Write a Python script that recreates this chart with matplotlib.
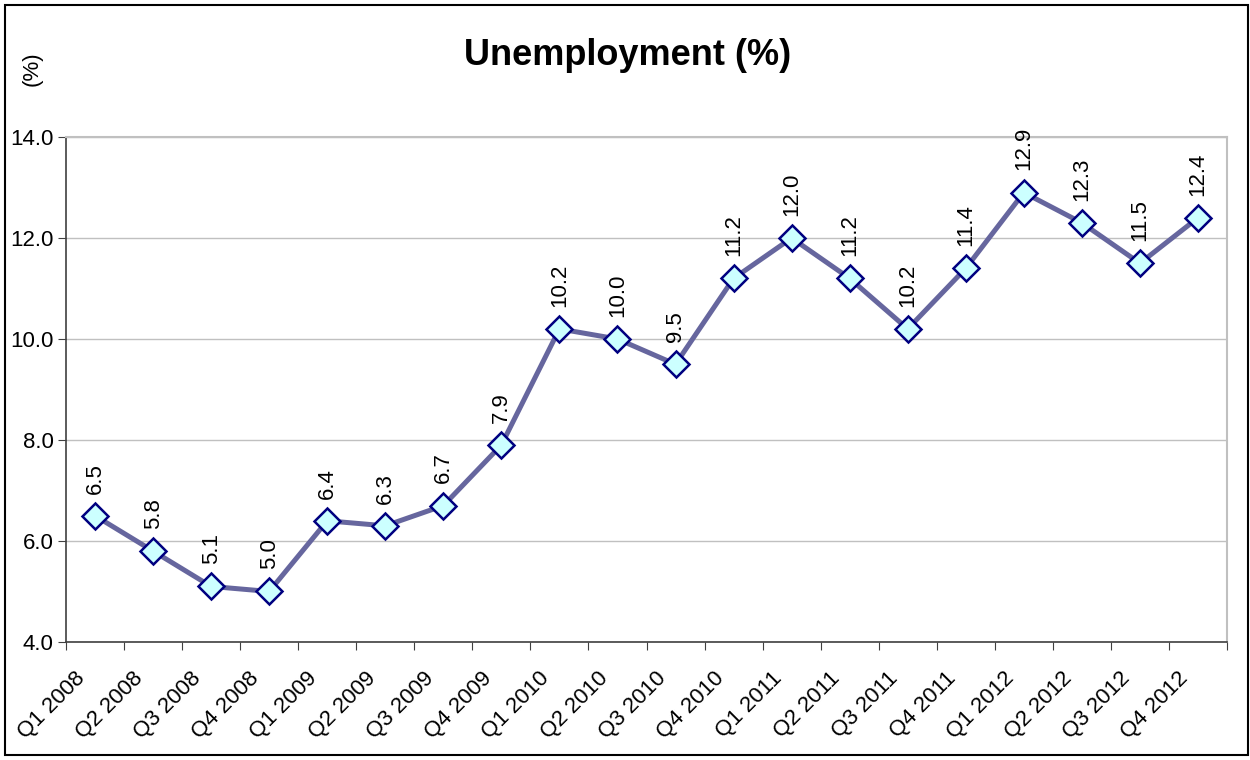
import matplotlib; matplotlib.use("agg")
import matplotlib.pyplot as plt
from matplotlib.transforms import ScaledTranslation
import numpy as np

plt.rcParams['font.family'] = ['Liberation Sans', 'DejaVu Sans']

quarters = ['Q1 2008', 'Q2 2008', 'Q3 2008', 'Q4 2008',
            'Q1 2009', 'Q2 2009', 'Q3 2009', 'Q4 2009',
            'Q1 2010', 'Q2 2010', 'Q3 2010', 'Q4 2010',
            'Q1 2011', 'Q2 2011', 'Q3 2011', 'Q4 2011',
            'Q1 2012', 'Q2 2012', 'Q3 2012', 'Q4 2012']
unemployment = [6.5, 5.8, 5.1, 5.0, 6.4, 6.3, 6.7, 7.9, 10.2, 10.0,
                9.5, 11.2, 12.0, 11.2, 10.2, 11.4, 12.9, 12.3, 11.5, 12.4]
yticks = [4.0, 6.0, 8.0, 10.0, 12.0, 14.0]

fig = plt.figure(figsize=(12.5, 7.6), dpi=100)
ax = fig.add_axes([0.0528, 0.1553, 0.9288, 0.6644])

x = np.arange(len(quarters))
ax.plot(x, unemployment, color='#66669e', lw=3.6, zorder=3,
        marker='D', markersize=13, markerfacecolor='#ccffff',
        markeredgecolor='#000080', markeredgewidth=1.8)

# data labels, rotated like in the spreadsheet
for xi, v in zip(x, unemployment):
    ax.annotate('%.1f' % v, (xi, v), xytext=(0, 16), textcoords='offset points',
                rotation=90, ha='center', va='bottom', fontsize=16)

ax.set_xlim(-0.5, len(quarters) - 0.5)
ax.set_ylim(4, 14)
ax.set_yticks(yticks)
ax.set_yticklabels(['%.1f' % t for t in yticks], fontsize=16)
ax.yaxis.grid(True, color='#c0c0c0', lw=1)
ax.set_axisbelow(True)

# ticks between categories, labels under the category centres
ax.set_xticks(np.arange(len(quarters) + 1) - 0.5)
ax.set_xticklabels([])
ax.set_xticks(x, minor=True)
ax.set_xticklabels(quarters, minor=True, rotation=45, ha='right',
                   va='center', rotation_mode='anchor', fontsize=16)
ax.tick_params(axis='x', which='minor', length=0, pad=24)
ax.tick_params(axis='x', which='major', length=6, direction='out', color='#404040')
ax.tick_params(axis='y', length=6, direction='out', color='#404040', pad=3)
shift = ScaledTranslation(-0.13, 0, fig.dpi_scale_trans)
for lab in ax.get_xticklabels(minor=True):
    lab.set_transform(lab.get_transform() + shift)

for s in ['top', 'right']:
    ax.spines[s].set_color('#c0c0c0')
    ax.spines[s].set_linewidth(1.5)
for s in ['left', 'bottom']:
    ax.spines[s].set_color('#404040')
    ax.spines[s].set_linewidth(1.2)

fig.text(0.5024, 0.9276, 'Unemployment (%)', ha='center', va='center',
         fontsize=26, fontweight='bold')
fig.text(0.026, 0.91, '(%)', ha='center', va='center', rotation=90, fontsize=16)

# outer chart border
fig.patches.append(plt.Rectangle((0.004, 0.006), 0.994, 0.988, transform=fig.transFigure,
                                 fill=False, edgecolor='black', lw=1.5))

plt.savefig('out.png', dpi=100)
